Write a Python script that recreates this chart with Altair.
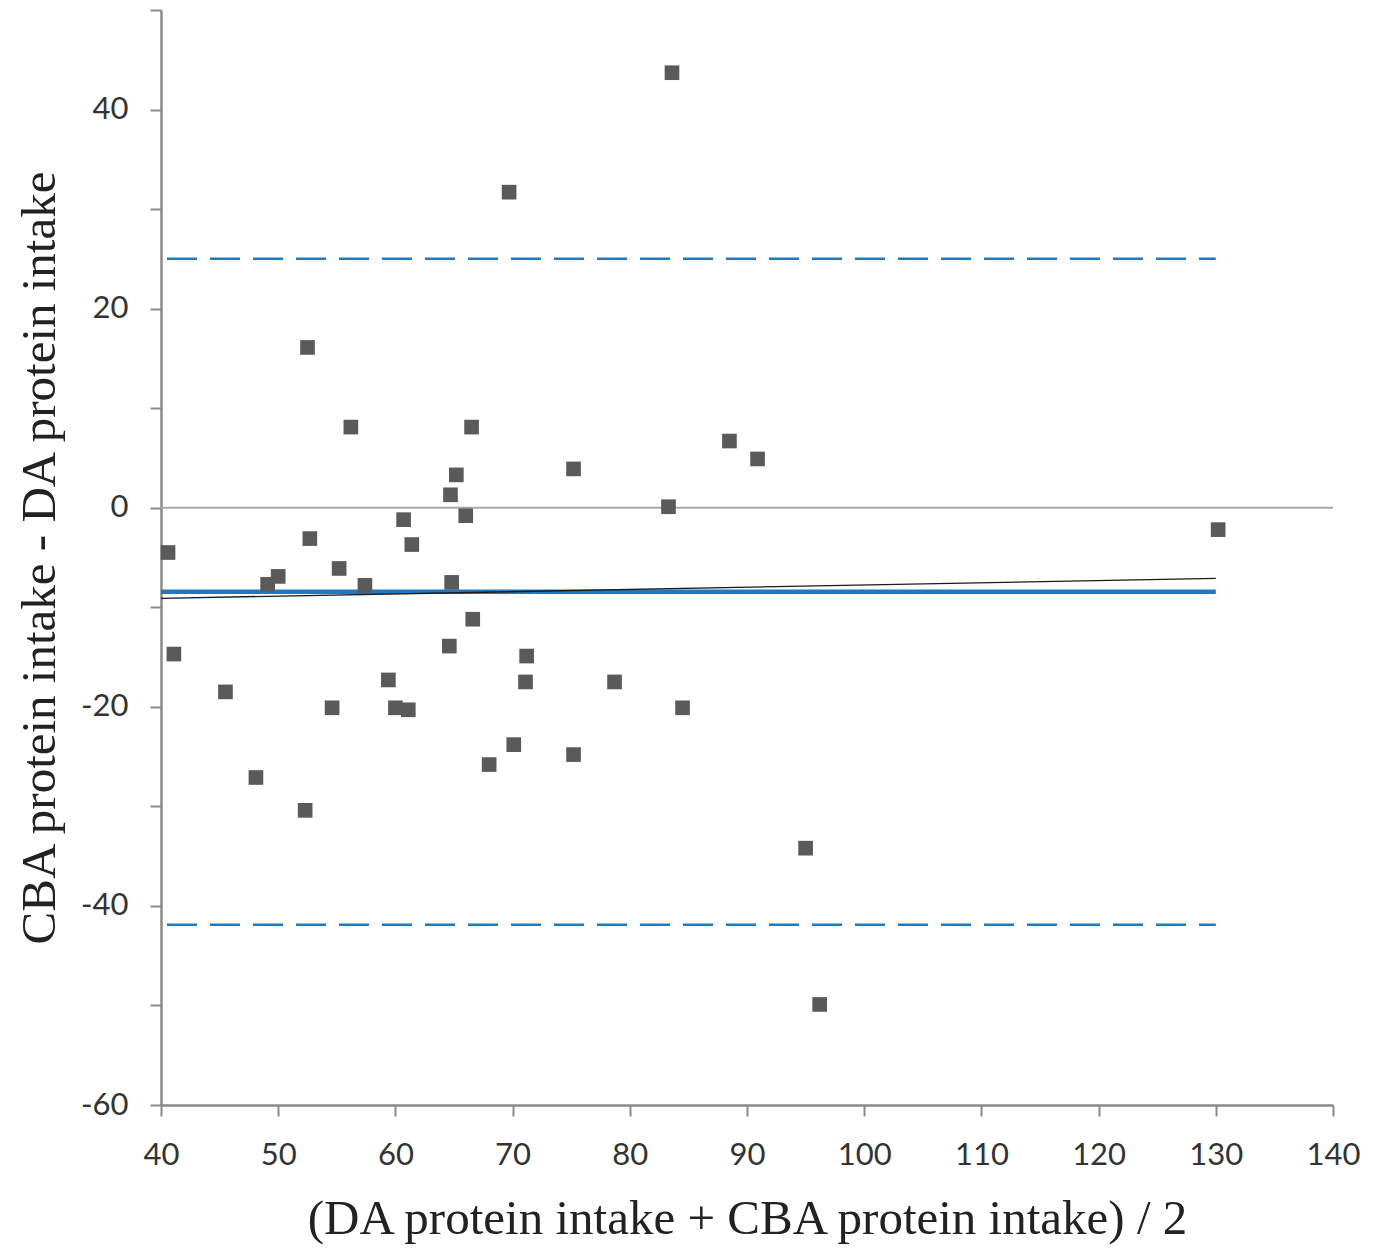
import altair as alt
import pandas as pd

# Bland-Altman data: mean of methods (x) vs difference (y)
mean_intake = [40.6, 41.1, 45.5, 48.1, 49.1, 50.0, 52.5, 52.3, 52.7, 54.6,
               55.2, 56.2, 57.4, 59.4, 60.0, 60.7, 61.1, 61.4, 64.6, 64.7,
               64.8, 65.2, 66.0, 66.5, 66.6, 68.0, 69.7, 70.1, 71.1, 71.2,
               75.2, 75.2, 78.7, 83.3, 83.6, 84.5, 88.5, 90.9, 95.0, 96.2,
               130.2]
diff_intake = [-4.5, -14.7, -18.5, -27.1, -7.7, -6.9, 16.1, -30.4, -3.1, -20.1,
               -6.1, 8.1, -7.8, -17.3, -20.1, -1.2, -20.3, -3.7, -13.9, 1.3,
               -7.5, 3.3, -0.8, 8.1, -11.2, -25.8, 31.7, -23.8, -17.5, -14.9,
               3.9, -24.8, -17.5, 0.1, 43.7, -20.1, 6.7, 4.9, -34.2, -49.9,
               -2.2]

bias = -8.45
upper_loa = 25.0
lower_loa = -41.9
line_x = [40, 130]
reg_x = [40, 130]
reg_y = [-9.1, -7.1]
x_ticks = list(range(40, 141, 10))
y_ticks = list(range(-60, 51, 10))

pts = pd.DataFrame({"x": mean_intake, "y": diff_intake})
hlines = pd.DataFrame({
    "x": [line_x[0]] * 3,
    "x2": [line_x[1]] * 3,
    "y": [bias, upper_loa, lower_loa],
    "kind": ["bias", "loa", "loa"],
})
zero_df = pd.DataFrame({"x": [40], "x2": [140], "y": [0]})
reg_df = pd.DataFrame({"x": reg_x, "y": reg_y})

BLUE = "#1f78c0"
AXIS_GRAY = "#8a8a8a"

xscale = alt.Scale(domain=[40, 140], nice=False, zero=False)
yscale = alt.Scale(domain=[-60, 50], nice=False, zero=False)

xaxis = alt.Axis(
    values=x_ticks, grid=False, title="(DA protein intake + CBA protein intake) / 2",
    titleFont="Liberation Serif", titleFontSize=49, titleFontWeight="normal",
    titleColor="#222", titlePadding=24,
    labelFont="Lato", labelFontSize=31, labelColor="#333", labelPadding=24,
    labelFlush=False, labelExpr="toString(datum.value)",
    domainColor=AXIS_GRAY, domainWidth=2.5, tickColor=AXIS_GRAY, tickWidth=2,
    tickSize=11,
)
yaxis = alt.Axis(
    values=y_ticks, grid=False, title="CBA protein intake - DA protein intake",
    labelExpr="datum.value % 20 == 0 ? toString(datum.value) : ''",
    titleFont="Liberation Serif", titleFontSize=49, titleFontWeight="normal",
    titleColor="#222", titlePadding=16,
    labelFont="Lato", labelFontSize=31, labelColor="#333", labelPadding=22,
    labelFlush=False,
    domainColor=AXIS_GRAY, domainWidth=2.5, tickColor=AXIS_GRAY, tickWidth=2,
    tickSize=11,
)

zero_line = alt.Chart(zero_df).mark_rule(color="#a8a8a8", strokeWidth=2).encode(
    x=alt.X("x:Q", scale=xscale, axis=xaxis),
    x2="x2:Q",
    y=alt.Y("y:Q", scale=yscale, axis=yaxis),
)

loa = alt.Chart(hlines[hlines.kind == "loa"]).mark_rule(
    color=BLUE, strokeWidth=2.5, strokeDash=[30, 13], strokeDashOffset=37
).encode(x=alt.X("x:Q", scale=xscale), x2="x2:Q", y=alt.Y("y:Q", scale=yscale))

bias_line = alt.Chart(hlines[hlines.kind == "bias"]).mark_rule(
    color=BLUE, strokeWidth=4.5
).encode(x=alt.X("x:Q", scale=xscale), x2="x2:Q", y=alt.Y("y:Q", scale=yscale))

reg_line = alt.Chart(reg_df).mark_line(color="#1a1a1a", strokeWidth=1.3).encode(
    x=alt.X("x:Q", scale=xscale), y=alt.Y("y:Q", scale=yscale)
)

points = alt.Chart(pts).mark_point(
    shape="square", filled=True, size=215, color="#5a5a5a", opacity=1
).encode(x=alt.X("x:Q", scale=xscale), y=alt.Y("y:Q", scale=yscale))

chart = alt.layer(zero_line, loa, bias_line, reg_line, points).properties(
    width=1172, height=1095,
    autosize=alt.AutoSizeParams(type="none"),
    padding={"left": 153, "top": 2, "right": 40, "bottom": 150},
    background="white",
).configure_view(stroke=None)

chart.save("out.html", embed_options={"renderer": "svg", "actions": False})
